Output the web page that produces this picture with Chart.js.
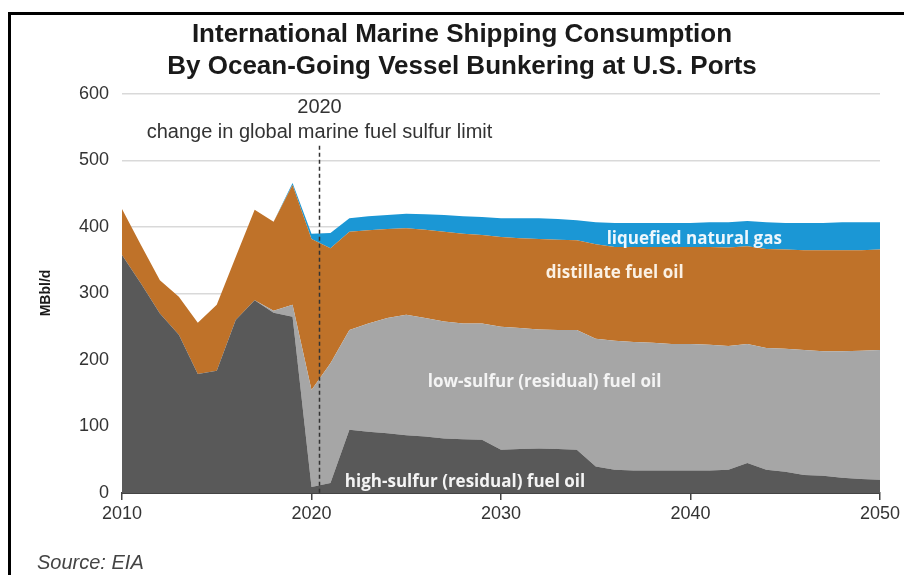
<!DOCTYPE html>
<html>
<head>
<meta charset="utf-8">
<script src="https://cdn.jsdelivr.net/npm/chart.js@4.4.1/dist/chart.umd.min.js"></script>
<style>
  html, body { margin: 0; padding: 0; background: #fff; }
  #wrap { width: 904px; height: 575px; position: relative; }
</style>
</head>
<body>
<div id="wrap"><canvas id="chart"></canvas></div>
<script>
const FONT = '"Liberation Sans", Arial, sans-serif';
const LABEL_FONT = '"Open Sans", "Liberation Sans", sans-serif';

const years = [2010, 2011, 2012, 2013, 2014, 2015, 2016, 2017, 2018, 2019,
  2020, 2021, 2022, 2023, 2024, 2025, 2026, 2027, 2028, 2029,
  2030, 2031, 2032, 2033, 2034, 2035, 2036, 2037, 2038, 2039,
  2040, 2041, 2042, 2043, 2044, 2045, 2046, 2047, 2048, 2049, 2050];

// MBbl/d, stacked bottom to top
const highSulfur = [358, 315, 270, 238, 179, 184, 260, 290, 271, 265,
  9, 15, 95, 92, 90, 87, 85, 82, 81, 80,
  65, 66, 67, 66, 65, 40, 35, 34, 34, 34,
  34, 34, 35, 45, 35, 32, 27, 26, 23, 21, 20];
const lowSulfur = [0, 0, 0, 0, 0, 0, 0, 0, 3, 18,
  146, 180, 150, 163, 173, 181, 178, 176, 174, 175,
  185, 182, 179, 179, 180, 192, 194, 193, 192, 190,
  190, 189, 186, 179, 183, 185, 188, 187, 190, 193, 195];
const distillate = [69, 58, 50, 57, 77, 99, 95, 136, 134, 180,
  227, 173, 148, 140, 134, 130, 133, 135, 135, 133,
  135, 135, 136, 136, 135, 142, 141, 143, 144, 146,
  146, 147, 148, 147, 149, 149, 150, 152, 152, 151, 151];
const lng = [0, 0, 0, 0, 0, 0, 0, 0, 0, 3,
  8, 23, 20, 21, 21, 22, 23, 25, 26, 27,
  28, 30, 31, 31, 30, 33, 36, 36, 36, 36,
  36, 37, 38, 38, 40, 40, 41, 41, 42, 42, 41];

const yTicks = [0, 100, 200, 300, 400, 500, 600];
const xTicks = [2010, 2020, 2030, 2040, 2050];

const series = [
  { label: 'high-sulfur (residual) fuel oil', values: highSulfur, color: '#595959' },
  { label: 'low-sulfur (residual) fuel oil', values: lowSulfur, color: '#a6a6a6' },
  { label: 'distillate fuel oil', values: distillate, color: '#bf7229' },
  { label: 'liquefied natural gas', values: lng, color: '#1b97d5' },
];

// in-chart labels, placed in data units
const areaLabels = [
  { text: 'liquefied natural gas', x: 2040.2, y: 382, color: '#eef7fc' },
  { text: 'distillate fuel oil', x: 2036, y: 330, color: '#fbf1e4' },
  { text: 'low-sulfur (residual) fuel oil', x: 2032.3, y: 167, color: '#f4f4f4' },
  { text: 'high-sulfur (residual) fuel oil', x: 2028.1, y: 16, color: '#f4f4f4' },
];
const ruleYear = 2020.4;

const decor = {
  id: 'decor',
  afterDatasetsDraw(chart) {
    const { ctx, scales: { x, y } } = chart;
    ctx.save();
    // dashed rule for the 2020 sulfur limit
    const rx = Math.round(x.getPixelForValue(ruleYear)) + 0.5;
    ctx.strokeStyle = '#333';
    ctx.lineWidth = 1.5;
    ctx.setLineDash([4, 3]);
    ctx.beginPath();
    ctx.moveTo(rx, y.getPixelForValue(522));
    ctx.lineTo(rx, y.getPixelForValue(0));
    ctx.stroke();
    ctx.setLineDash([]);

    ctx.textAlign = 'center';
    ctx.textBaseline = 'middle';
    ctx.fillStyle = '#333';
    ctx.font = '20px ' + FONT;
    ctx.fillText('2020', rx, y.getPixelForValue(579));
    ctx.fillText('change in global marine fuel sulfur limit', rx, y.getPixelForValue(542));

    ctx.font = 'bold 17px ' + LABEL_FONT;
    for (const l of areaLabels) {
      ctx.fillStyle = l.color;
      ctx.fillText(l.text, x.getPixelForValue(l.x), y.getPixelForValue(l.y));
    }
    ctx.restore();
  },
  afterDraw(chart) {
    const { ctx } = chart;
    ctx.save();
    // frame
    ctx.fillStyle = '#000';
    ctx.fillRect(8, 12, 3, 563);
    ctx.fillRect(8, 12, 896, 3);

    ctx.fillStyle = '#1a1a1a';
    ctx.textAlign = 'center';
    ctx.textBaseline = 'middle';
    ctx.font = 'bold 26px ' + FONT;
    ctx.fillText('International Marine Shipping Consumption', 462, 35);
    ctx.fillText('By Ocean-Going Vessel Bunkering at U.S. Ports', 462, 67);

    ctx.save();
    ctx.translate(46, 293);
    ctx.rotate(-Math.PI / 2);
    ctx.font = 'bold 14px ' + FONT;
    ctx.fillText('MBbl/d', 0, 0);
    ctx.restore();

    ctx.textAlign = 'left';
    ctx.fillStyle = '#444';
    ctx.font = 'italic 20px ' + FONT;
    ctx.fillText('Source: EIA', 37, 563);
    ctx.restore();
  }
};

new Chart(document.getElementById('chart'), {
  type: 'line',
  data: {
    datasets: series.map((s, i) => ({
      label: s.label,
      data: years.map((yr, j) => ({ x: yr, y: s.values[j] })),
      backgroundColor: s.color,
      borderWidth: 0,
      pointRadius: 0,
      tension: 0,
      fill: i === 0 ? 'origin' : '-1',
    })),
  },
  options: {
    responsive: true,
    maintainAspectRatio: false,
    animation: false,
    layout: { padding: { left: 72, right: 24, top: 94, bottom: 42 } },
    plugins: { legend: { display: false }, tooltip: { enabled: false }, title: { display: false } },
    scales: {
      x: {
        type: 'linear', min: 2010, max: 2050,
        afterFit: s => { s.height = 40; },
        afterBuildTicks: s => { s.ticks = xTicks.map(v => ({ value: v })); },
        ticks: { color: '#333', font: { family: FONT, size: 18 }, padding: 3, maxRotation: 0, callback: v => String(v) },
        grid: { drawOnChartArea: false, drawTicks: true, tickLength: 7, color: '#444', lineWidth: 1.5 },
        border: { display: true, color: '#444', width: 2 },
      },
      y: {
        stacked: true, min: 0, max: 600,
        afterFit: s => { s.width = 50; },
        afterBuildTicks: s => { s.ticks = yTicks.map(v => ({ value: v })); },
        ticks: { color: '#333', font: { family: FONT, size: 18 }, padding: 13 },
        grid: { color: '#d9d9d9', lineWidth: 1.5, drawTicks: false },
        border: { display: false },
      },
    },
  },
  plugins: [decor],
});
</script>
</body>
</html>
